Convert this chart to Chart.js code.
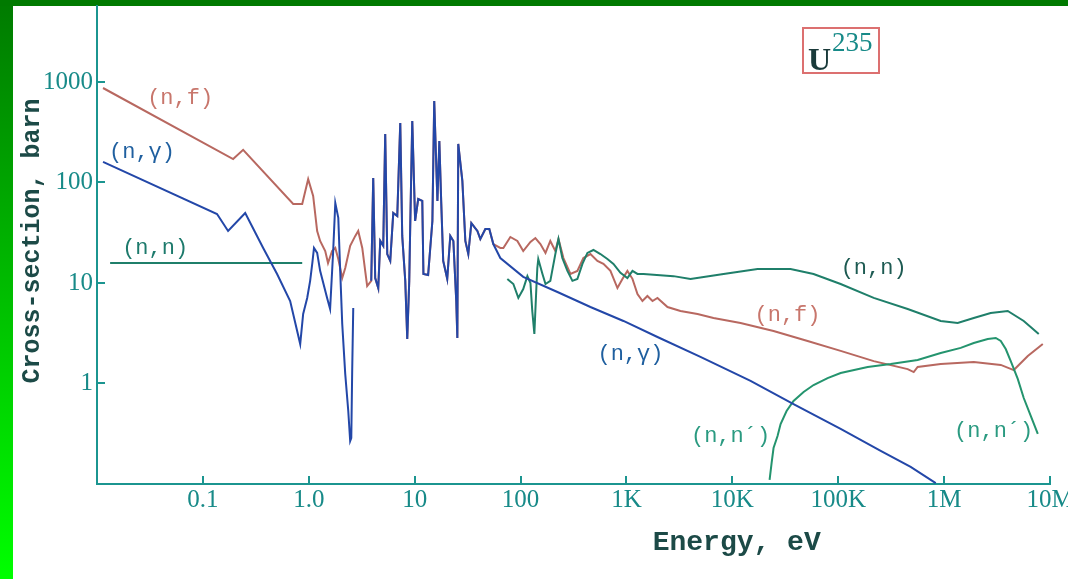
<!DOCTYPE html>
<html>
<head>
<meta charset="utf-8">
<script src="https://cdn.jsdelivr.net/npm/chart.js@4.4.0/dist/chart.umd.min.js"></script>
<style>
  html, body { margin: 0; padding: 0; background: #ffffff; overflow: hidden; }
  #wrap { width: 1068px; height: 579px; position: relative; }
</style>
</head>
<body>
<div id="wrap"><canvas id="c" width="1068" height="579"></canvas></div>
<script>
// Axis decades and their printed labels
const energyTicks = [0.1, 1, 10, 100, 1e3, 1e4, 1e5, 1e6, 1e7];
const energyTickLabels = ['0.1', '1.0', '10', '100', '1K', '10K', '100K', '1M', '10M'];
const xsTicks = [1, 10, 100, 1000];
const xsTickLabels = ['1', '10', '100', '1000'];

// (n,γ) radiative capture, energy in eV / cross-section in barn
const captureE = [0.0114, 0.136, 0.173, 0.251, 0.371, 0.502, 0.667, 0.830, 0.885, 0.966,
  1.03, 1.08, 1.12, 1.20, 1.28, 1.49, 1.59, 1.70, 1.78, 1.90, 1.98, 2.07, 2.21, 2.36, 2.46, 2.52, 2.57, 2.63,
  3.2,
  3.89, 4.06, 4.24, 4.53, 4.73, 5.05, 5.27, 5.51, 5.88, 6.28, 6.85, 7.31, 7.63, 8.15, 8.51, 8.89, 9.08, 9.49,
  10.1, 10.8, 11.8, 12.1, 13.4, 14.7, 15.3, 16.4, 17.1, 17.8, 18.6, 20.3, 21.7, 23.2, 24.7, 25.3, 25.8,
  28.2, 30.1, 32.1, 34.3, 39.1, 41.7, 46.5, 50.7, 55.3, 64.4,
  106, 223, 457, 937, 1963, 5000, 14860, 37840, 105400, 251800, 483100, 833700];
const captureXS = [160, 48.6, 32.9, 49.7, 22.3, 12.3, 6.62, 2.47, 4.92, 7.10,
  10.5, 15.8, 22.3, 19.9, 13.2, 7.10, 5.51, 20.8, 62.5, 44.4, 13.2, 3.91, 1.24, 0.532, 0.268, 0.287, 1.33, 5.64,
  null,
  10.5, 111, 11.2, 8.91, 26.2, 23.4, 304, 19.4, 16.6, 49.7, 46.4, 391, 29.4, 10.5, 2.77, 10.5, 36.9, 409,
  41.4, 68.5, 65.5, 12.3, 12.0, 41.4, 647, 65.5, 259, 65.5, 16.6, 11.0, 29.4, 26.2, 6.62, 2.84, 242,
  104, 26.2, 19.4, 39.5, 32.9, 27.4, 34.5, 34.5, 24.4, 17.7,
  11.5, 8.13, 5.77, 4.19, 2.90, 1.84, 1.06, 0.625, 0.353, 0.213, 0.148, 0.102];

// (n,f) fission
const fissionE = [0.0114, 0.193, 0.240, 0.713, 0.867, 0.987, 1.10, 1.20, 1.28, 1.43, 1.52, 1.66, 1.78,
  1.90, 2.07, 2.21, 2.46, 2.75, 2.93, 3.20, 3.41, 3.56,
  3.89, 4.06, 4.24, 4.53, 4.73, 5.05, 5.27, 5.51, 5.88, 6.28, 6.85, 7.31, 7.63, 8.15, 8.51, 8.89, 9.08, 9.49,
  10.1, 10.8, 11.8, 12.1, 13.4, 14.7, 15.3, 16.4, 17.1, 17.8, 18.6, 20.3, 21.7, 23.2, 24.7, 25.3, 25.8,
  28.2, 30.1, 32.1, 34.3, 39.1, 41.7, 46.5, 50.7, 55.3,
  64.4, 68.8, 80.1, 93.3, 106, 124, 138, 154, 172, 191, 213, 228, 254, 296, 344, 392, 457, 532, 606, 706,
  822, 916, 1021, 1140, 1271, 1416, 1578, 1762, 1963, 2443, 3237, 4690, 6640, 11960, 24500, 51400,
  105400, 216300, 452900, 516400, 562300, 928800, 1.905e6, 3.428e6, 4.55e6, 6.17e6, 8.55e6];
const fissionXS = [871, 171, 211, 61.1, 61.1, 108, 73.4, 32.9, 26.2, 20.8, 15.8, 20.8, 22.3,
  17.3, 11.2, 14.1, 23.4, 29.4, 32.9, 22.3, 13.2, 9.33,
  10.5, 111, 11.2, 8.91, 26.2, 23.4, 304, 19.4, 16.6, 49.7, 46.4, 391, 29.4, 10.5, 2.77, 10.5, 36.9, 409,
  41.4, 68.5, 65.5, 12.3, 12.0, 41.4, 647, 65.5, 259, 65.5, 16.6, 11.0, 29.4, 26.2, 6.62, 2.84, 242,
  104, 26.2, 19.4, 39.5, 32.9, 27.4, 34.5, 34.5, 24.4,
  22.3, 22.3, 28.7, 26.2, 20.8, 25.6, 28.0, 24.4, 19.9, 26.2, 20.8, 27.4, 17.7, 12.3, 13.2, 17.7, 19.4, 16.6, 15.5, 13.2,
  8.91, 10.96, 13.2, 11.0, 7.77, 6.62, 7.42, 6.62, 7.10, 5.77, 5.27, 4.92, 4.48, 4.00, 3.33, 2.65,
  2.11, 1.67, 1.39, 1.30, 1.46, 1.56, 1.64, 1.53, 1.36, 1.88, 2.47];

// (n,n) elastic scattering
const elasticE = [0.0133, 0.867,
  3.2,
  75.0, 85.5, 95.3, 106, 116, 124, 129, 135, 141, 144, 147, 161, 172, 191, 213, 228, 248, 277, 309, 344,
  384, 428, 488, 568, 661, 754, 878, 1021, 1140, 1271, 1449, 2780, 4027, 8260, 17300, 35480, 58500,
  105400, 216300, 452900, 928800, 1.343e6, 1.905e6, 2.754e6, 3.99e6, 5.65e6, 7.83e6];
const elasticXS = [15.8, 15.8,
  null,
  10.96, 9.77, 7.10, 8.71, 11.7, 10.0, 5.27, 3.11, 8.91, 14.1, 17.3, 12.3, 9.77, 10.5, 19.4, 27.4, 17.7, 13.2, 10.5, 10.96,
  15.5, 19.9, 21.3, 19.4, 17.3, 15.5, 12.6, 11.2, 13.2, 12.3, 12.3, 11.7, 10.96, 12.3, 13.8, 13.8, 12.3,
  9.77, 7.10, 5.51, 4.19, 4.00, 4.48, 5.03, 5.27, 4.19, 3.11];

// (n,n´) inelastic scattering
const inelasticE = [22480, 23500, 24500, 26730, 28560, 32530, 37840, 47100, 58500, 79400, 105400,
  189700, 312800, 562300, 928800, 1.435e6, 1.905e6, 2.582e6, 3.075e6, 3.428e6, 3.82e6, 4.26e6,
  4.96e6, 5.65e6, 6.58e6, 7.67e6];
const inelasticXS = [0.110, 0.162, 0.228, 0.300, 0.395, 0.532, 0.670, 0.823, 0.966, 1.13, 1.27,
  1.46, 1.56, 1.71, 2.01, 2.26, 2.53, 2.77, 2.84, 2.65, 2.20, 1.67,
  1.11, 0.717, 0.475, 0.315];

// Reaction names written next to the curves (anchor in eV / barn)
const reactionLabels = [
  { text: '(n,f)',  e: 0.061,  xs: 690,   color: '#c8766c' },
  { text: '(n,γ)',  e: 0.0266, xs: 201,   color: '#1f5f9f' },
  { text: '(n,n)',  e: 0.0354, xs: 22.3,  color: '#1d7a6c' },
  { text: '(n,n)',  e: 2.16e5, xs: 14.1,  color: '#1d5a52' },
  { text: '(n,f)',  e: 3.32e4, xs: 4.8,   color: '#c8766c' },
  { text: '(n,γ)',  e: 1091,   xs: 1.97,  color: '#1f5f9f' },
  { text: '(n,n´)', e: 9620,   xs: 0.30,  color: '#2a9a80' },
  { text: '(n,n´)', e: 2.94e6, xs: 0.337, color: '#2a9a80' }
];

const axisColor = '#1b9590';
const tickColor = '#178a88';
const titleColor = '#1c4a47';

function points(es, vals) {
  return es.map((e, i) => ({ x: e, y: vals[i] }));
}

// Green frame along the top and left edges
const framePlugin = {
  id: 'frame',
  beforeDraw(chart) {
    const { ctx, width, height } = chart;
    ctx.save();
    ctx.fillStyle = '#ffffff';
    ctx.fillRect(0, 0, width, height);
    const g = ctx.createLinearGradient(0, 0, 0, height);
    g.addColorStop(0, '#007a00');
    g.addColorStop(1, '#00ff00');
    ctx.fillStyle = g;
    ctx.fillRect(0, 0, 13, height);
    ctx.fillStyle = '#007a00';
    ctx.fillRect(0, 0, width, 6);
    ctx.restore();
  }
};

// Tick marks pointing into the plot, titles, curve names and the nuclide box
const decorPlugin = {
  id: 'decor',
  afterDraw(chart) {
    const { ctx, chartArea: a, scales } = chart;
    const x = scales.x, y = scales.y;
    ctx.save();
    ctx.strokeStyle = axisColor;
    ctx.lineWidth = 2;
    ctx.beginPath();
    energyTicks.forEach(v => {
      const px = Math.round(x.getPixelForValue(v));
      ctx.moveTo(px, a.bottom);
      ctx.lineTo(px, a.bottom - 8);
    });
    xsTicks.forEach(v => {
      const py = Math.round(y.getPixelForValue(v));
      ctx.moveTo(a.left, py);
      ctx.lineTo(a.left + 8, py);
    });
    ctx.stroke();

    // axis titles
    ctx.fillStyle = titleColor;
    ctx.textAlign = 'center';
    ctx.textBaseline = 'middle';
    ctx.font = 'bold 28px "Liberation Mono"';
    ctx.fillText('Energy, eV', x.getPixelForValue(1.1e4), 543);
    ctx.save();
    ctx.translate(33, (a.top + a.bottom) / 2 - 4);
    ctx.rotate(-Math.PI / 2);
    ctx.font = 'bold 25px "Liberation Mono"';
    ctx.fillText('Cross-section, barn', 0, 0);
    ctx.restore();

    // reaction names
    ctx.font = '22px "Liberation Mono"';
    reactionLabels.forEach(l => {
      ctx.fillStyle = l.color;
      ctx.fillText(l.text, x.getPixelForValue(l.e), y.getPixelForValue(l.xs));
    });

    // nuclide box
    const bx = Math.round(x.getPixelForValue(4.6e4)), by = 28;
    ctx.strokeStyle = '#dc7070';
    ctx.lineWidth = 2;
    ctx.strokeRect(bx, by, 76, 45);
    ctx.textAlign = 'left';
    ctx.textBaseline = 'alphabetic';
    ctx.fillStyle = '#1a3a3a';
    ctx.font = 'bold 32px "Liberation Serif"';
    ctx.fillText('U', bx + 5, by + 42);
    ctx.fillStyle = '#178a88';
    ctx.font = '27px "Liberation Serif"';
    ctx.fillText('235', bx + 29, by + 23);
    ctx.restore();
  }
};

new Chart(document.getElementById('c'), {
  type: 'line',
  data: {
    datasets: [
      { label: '(n,γ)', data: points(captureE, captureXS), borderColor: '#2347a8', borderWidth: 2 },
      { label: '(n,n)', data: points(elasticE, elasticXS), borderColor: '#1f7f6a', borderWidth: 2 },
      { label: '(n,n´)', data: points(inelasticE, inelasticXS), borderColor: '#24946e', borderWidth: 2 },
      { label: '(n,f)', data: points(fissionE, fissionXS), borderColor: '#b86860', borderWidth: 2 }
    ]
  },
  options: {
    responsive: false,
    devicePixelRatio: 1,
    animation: false,
    spanGaps: false,
    elements: { point: { radius: 0 }, line: { tension: 0, borderJoinStyle: 'miter' } },
    layout: { padding: { left: 13, top: 6, right: 18, bottom: 0 } },
    plugins: { legend: { display: false }, tooltip: { enabled: false } },
    scales: {
      x: {
        type: 'logarithmic',
        position: 'bottom',
        min: 0.01,
        max: 1e7,
        grid: { display: false, drawTicks: false },
        border: { color: axisColor, width: 2 },
        ticks: {
          autoSkip: false,
          maxRotation: 0,
          padding: 1,
          color: tickColor,
          font: { family: 'Liberation Serif', size: 25 },
          callback: (v, i) => energyTickLabels[i]
        },
        afterBuildTicks: s => { s.ticks = energyTicks.map(v => ({ value: v })); },
        afterFit: s => { s.height = 95; s.paddingLeft = 0; s.paddingRight = 0; }
      },
      y: {
        type: 'logarithmic',
        position: 'left',
        min: 0.1,
        max: 5700,
        grid: { display: false, drawTicks: false },
        border: { color: axisColor, width: 2 },
        ticks: {
          autoSkip: false,
          padding: 4,
          color: tickColor,
          font: { family: 'Liberation Serif', size: 25 },
          callback: (v, i) => xsTickLabels[i]
        },
        afterBuildTicks: s => { s.ticks = xsTicks.map(v => ({ value: v })); },
        afterFit: s => { s.width = 84; s.paddingTop = 0; s.paddingBottom = 0; }
      }
    }
  },
  plugins: [framePlugin, decorPlugin]
});
</script>
</body>
</html>
